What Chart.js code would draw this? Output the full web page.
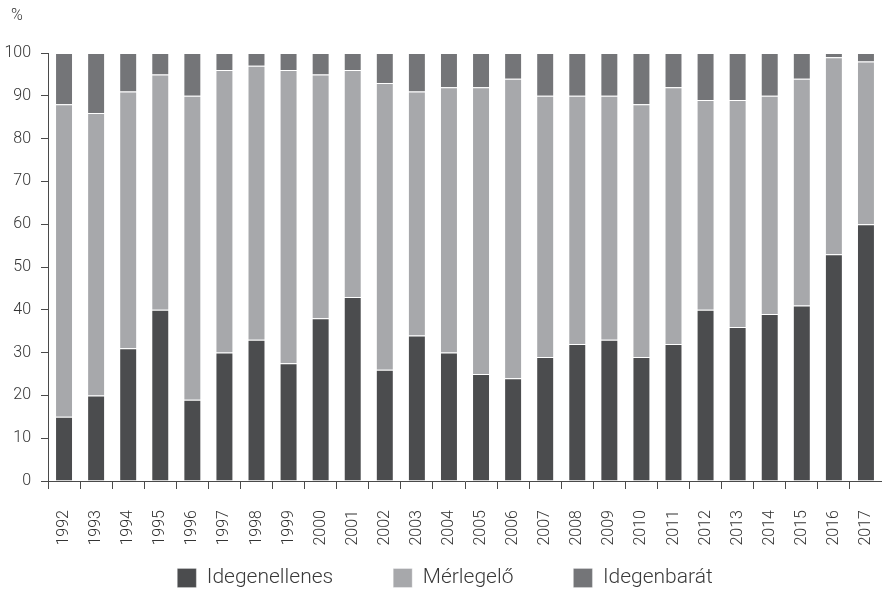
<!DOCTYPE html>
<html>
<head>
<meta charset="utf-8">
<script src="https://cdn.jsdelivr.net/npm/chart.js@4"></script>
<style>
  html, body { margin: 0; padding: 0; background: #fff; }
  #wrap { width: 882px; height: 592px; position: relative; }
</style>
</head>
<body>
<div id="wrap"><canvas id="myChart"></canvas></div>
<script>
// adatok (%)
const years = ['1992','1993','1994','1995','1996','1997','1998','1999','2000','2001','2002','2003','2004',
  '2005','2006','2007','2008','2009','2010','2011','2012','2013','2014','2015','2016','2017']
const idegenellenes = [15, 20, 31, 40, 19, 30, 33, 27.5, 38, 43, 26, 34, 30, 25, 24, 29, 32, 33, 29, 32, 40, 36, 39, 41, 53, 60]
const merlegelo = [73, 66, 60, 55, 71, 66, 64, 68.5, 57, 53, 67, 57, 62, 67, 70, 61, 58, 57, 59, 60, 49, 53, 51, 53, 46, 38]
const idegenbarat = [12, 14, 9, 5, 10, 4, 3, 4, 5, 4, 7, 9, 8, 8, 6, 10, 10, 10, 12, 8, 11, 11, 10, 6, 1, 2]
const yTicks = [0, 10, 20, 30, 40, 50, 60, 70, 80, 90, 100]

const fontFam = "Roboto, 'Liberation Sans Narrow', sans-serif"
const axisColor = '#4a4a4a'
const legPad = 60
const legFont = 21

const percentLabel = {
  id: 'percentLabel',
  afterDraw(chart) {
    const c = chart.ctx
    c.save()
    c.font = '300 16px ' + fontFam
    c.fillStyle = '#333'
    c.textBaseline = 'top'
    c.fillText('%', 11, 8)
    c.restore()
  }
}

// a jelmagyarazat: nagy vizszintes koz, kis fuggoleges hely
const legendPlace = {
  id: 'legendPlace',
  beforeUpdate(chart) {
    const lg = chart.legend
    if (lg && !lg._patched) {
      const fit = lg.fit
      lg.fit = function () { fit.call(this); this.height = 34 }
      lg._patched = true
    }
  },
  afterLayout(chart) {
    const lg = chart.legend
    lg.top = 578 - legFont / 2 - legPad
    lg.left = 8
    lg.right = 882
  }
}

var ctx = document.getElementById('myChart').getContext('2d')
var chart = new Chart(ctx, {
  type: 'bar',
  data: {
    labels: years,
    datasets: [
      { label: 'Idegenellenes', data: idegenellenes, backgroundColor: '#4b4c4e', borderColor: 'rgba(255,255,255,0.25)', borderWidth: 1 },
      { label: 'Mérlegelő', data: merlegelo, backgroundColor: '#a7a8ab', borderColor: 'rgba(255,255,255,0.35)', borderWidth: 1 },
      { label: 'Idegenbarát', data: idegenbarat, backgroundColor: '#747578', borderColor: 'rgba(255,255,255,0.25)', borderWidth: 1 }
    ]
  },
  options: {
    responsive: true,
    maintainAspectRatio: false,
    animation: false,
    layout: { padding: { top: 53, right: 0, left: 0, bottom: 0 } },
    datasets: { bar: { barPercentage: 0.56, categoryPercentage: 1 } },
    plugins: {
      tooltip: { enabled: false },
      legend: {
        position: 'bottom',
        labels: {
          boxWidth: 19, boxHeight: 19, padding: legPad,
          color: '#3a3a3a',
          font: { family: fontFam, size: legFont, weight: '300' }
        }
      }
    },
    scales: {
      x: {
        stacked: true,
        grid: { drawOnChartArea: false, tickLength: 8, color: axisColor, offset: true },
        border: { color: axisColor, width: 1 },
        ticks: {
          maxRotation: 90, minRotation: 90, autoSkip: false, padding: 21,
          color: '#333',
          font: { family: fontFam, size: 16, weight: '300' }
        },
        afterFit: s => { s.height = 77; s.paddingLeft = 0; s.paddingRight = 0 }
      },
      y: {
        stacked: true,
        min: 0, max: 100,
        afterBuildTicks: s => { s.ticks = yTicks.map(v => ({ value: v })) },
        grid: { drawOnChartArea: false, tickLength: 7, color: axisColor },
        border: { color: axisColor, width: 1 },
        ticks: {
          padding: 10,
          color: '#333',
          font: { family: fontFam, size: 16, weight: '300' }
        },
        afterFit: s => { s.width = 48 }
      }
    }
  },
  plugins: [percentLabel, legendPlace]
})
</script>
</body>
</html>
